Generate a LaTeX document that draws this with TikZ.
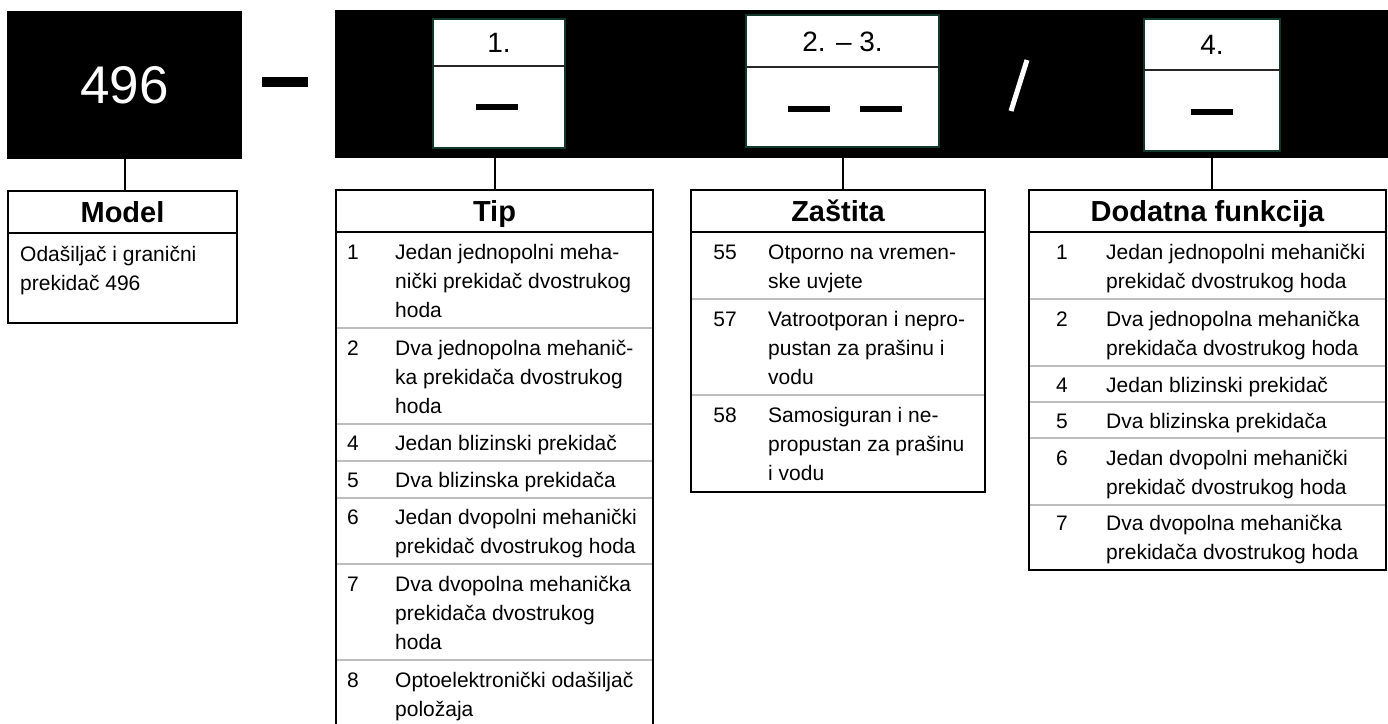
\documentclass[tikz,border=0pt]{standalone}
\usepackage{fontspec}
\setmainfont{Liberation Sans}
\definecolor{boxgreen}{HTML}{12382A}
\definecolor{rowgray}{HTML}{BDBDBD}
\newcommand\rowfont{\fontsize{21}{29}\selectfont}
\newcommand\hdrfont{\fontsize{29}{34}\selectfont\bfseries}
\begin{document}
\begin{tikzpicture}[x=1pt,y=-1pt,
  blk/.style={fill=black,inner sep=0pt,outer sep=0pt},
  wbox/.style={fill=white,draw=boxgreen,line width=2.5pt,inner sep=0pt,outer sep=0pt},
  divline/.style={draw=black!85,line width=1.3pt},
  lbl/.style={inner sep=0pt,font=\fontsize{28}{32}\selectfont},
  bar/.style={fill=black,inner sep=0pt,outer sep=0pt,minimum width=42pt,minimum height=6.5pt},
  hdr/.style={draw=black,line width=2.5pt,minimum height=42pt,inner sep=0pt,outer sep=0pt,
              font=\hdrfont,text height=20.8pt,text depth=0pt},
  tbl/.style={draw=black,line width=2.5pt},
  rsep/.style={draw=rowgray,line width=1.2pt},
  conn/.style={draw=black,line width=2pt},
  txt/.style={anchor=north west,inner sep=0pt,align=left,font=\rowfont},
  num/.style={anchor=north,inner sep=0pt,font=\rowfont}
]
\useasboundingbox (0,0) rectangle (1388,723);
\clip (0,0) rectangle (1388,723);

% ---------- top row ----------
\node[blk,minimum width=235pt,minimum height=148pt,text=white,
      font=\fontsize{53}{60}\selectfont] (code) at (124.5,85) {496};
\node[blk,minimum width=46pt,minimum height=10pt] (sepdash) at (285,82) {};
\node[blk,minimum width=1053pt,minimum height=148pt] (strip) at (861.5,84) {};

% box 1
\node[wbox,minimum width=132pt,minimum height=129pt] (b1) at (499,83.5) {};
\draw[divline] (b1.west |- 0,66) -- (b1.east |- 0,66);
\node[lbl] (b1l) at (499,43) {1.};
\node[bar] (b1d) at (497,107) {};

% box 2
\node[wbox,minimum width=193pt,minimum height=132pt] (b2) at (842.5,81) {};
\draw[divline] (b2.west |- 0,67) -- (b2.east |- 0,67);
\node[lbl] (b2l) at (842.5,41.5) {2. – 3.};
\node[bar] (b2d1) at (809,109) {};
\node[bar] (b2d2) at (880.5,109) {};

% slash
\draw[white,line width=5pt] (1027,60) -- (1011,111);

% box 4
\node[wbox,minimum width=136pt,minimum height=132pt] (b4) at (1212,85) {};
\draw[divline] (b4.west |- 0,70) -- (b4.east |- 0,70);
\node[lbl] (b4l) at (1212,45) {4.};
\node[bar] (b4d) at (1212,112) {};

% ---------- Model ----------
\node[hdr,minimum width=229pt] (mh) at (122.5,212) {Model};
\draw[tbl] (mh.south west) rectangle (237,323);
\node[txt] (mt) at (20,240.5) {\strut Odašiljač i granični\\\strut prekidač 496};
\draw[conn] (code.south) -- (code.south |- mh.north);

% ---------- Tip ----------
\node[hdr,minimum width=317pt] (th) at (494.5,211) {Tip};
\draw[rsep] (336,328) -- (653,328);
\draw[rsep] (336,424) -- (653,424);
\draw[rsep] (336,461) -- (653,461);
\draw[rsep] (336,498) -- (653,498);
\draw[rsep] (336,564) -- (653,564);
\draw[rsep] (336,660) -- (653,660);
\draw[tbl] (th.south west) rectangle (653,760);
\draw[conn] (th.north |- strip.south) -- (th.north);

\node[num] (t1n) at (353,238.5) {\strut 1};
\node[txt] (t1t) at (395,238.5) {\strut Jedan jednopolni meha-\\\strut nički prekidač dvostrukog\\\strut hoda};
\node[num] (t2n) at (353,334.5) {\strut 2};
\node[txt] (t2t) at (395,334.5) {\strut Dva jednopolna mehanič-\\\strut ka prekidača dvostrukog\\\strut hoda};
\node[num] (t3n) at (353,430) {\strut 4};
\node[txt] (t3t) at (395,430) {\strut Jedan blizinski prekidač};
\node[num] (t4n) at (353,467) {\strut 5};
\node[txt] (t4t) at (395,467) {\strut Dva blizinska prekidača};
\node[num] (t5n) at (353,504) {\strut 6};
\node[txt] (t5t) at (395,504) {\strut Jedan dvopolni mehanički\\\strut prekidač dvostrukog hoda};
\node[num] (t6n) at (353,570.5) {\strut 7};
\node[txt] (t6t) at (395,570.5) {\strut Dva dvopolna mehanička\\\strut prekidača dvostrukog\\\strut hoda};
\node[num] (t7n) at (353,666.5) {\strut 8};
\node[txt] (t7t) at (395,666.5) {\strut Optoelektronički odašiljač\\\strut položaja};

% ---------- Zastita ----------
\node[hdr,minimum width=294pt] (zh) at (838,211) {Zaštita};
\draw[rsep] (691,299) -- (985,299);
\draw[rsep] (691,395) -- (985,395);
\draw[tbl] (zh.south west) rectangle (985,492);
\draw[conn] (b2.south |- strip.south) -- (b2.south |- zh.north);

\node[num] (z1n) at (725,238.5) {\strut 55};
\node[txt] (z1t) at (768,238.5) {\strut Otporno na vremen-\\\strut ske uvjete};
\node[num] (z2n) at (725,305.5) {\strut 57};
\node[txt] (z2t) at (768,305.5) {\strut Vatrootporan i nepro-\\\strut pustan za prašinu i\\\strut vodu};
\node[num] (z3n) at (725,402) {\strut 58};
\node[txt] (z3t) at (768,402) {\strut Samosiguran i ne-\\\strut propustan za prašinu\\\strut i vodu};

% ---------- Dodatna funkcija ----------
\node[hdr,minimum width=357pt] (dh) at (1207.5,211) {Dodatna funkcija};
\draw[rsep] (1029,299) -- (1386,299);
\draw[rsep] (1029,366) -- (1386,366);
\draw[rsep] (1029,402) -- (1386,402);
\draw[rsep] (1029,438) -- (1386,438);
\draw[rsep] (1029,505) -- (1386,505);
\draw[tbl] (dh.south west) rectangle (1386,570);
\draw[conn] (b4.south |- strip.south) -- (b4.south |- dh.north);

\node[num] (d1n) at (1062,238.5) {\strut 1};
\node[txt] (d1t) at (1106,238.5) {\strut Jedan jednopolni mehanički\\\strut prekidač dvostrukog hoda};
\node[num] (d2n) at (1062,305.5) {\strut 2};
\node[txt] (d2t) at (1106,305.5) {\strut Dva jednopolna mehanička\\\strut prekidača dvostrukog hoda};
\node[num] (d3n) at (1062,371.5) {\strut 4};
\node[txt] (d3t) at (1106,371.5) {\strut Jedan blizinski prekidač};
\node[num] (d4n) at (1062,407.5) {\strut 5};
\node[txt] (d4t) at (1106,407.5) {\strut Dva blizinska prekidača};
\node[num] (d5n) at (1062,444.5) {\strut 6};
\node[txt] (d5t) at (1106,444.5) {\strut Jedan dvopolni mehanički\\\strut prekidač dvostrukog hoda};
\node[num] (d6n) at (1062,510) {\strut 7};
\node[txt] (d6t) at (1106,510) {\strut Dva dvopolna mehanička\\\strut prekidača dvostrukog hoda};
\end{tikzpicture}
\end{document}
